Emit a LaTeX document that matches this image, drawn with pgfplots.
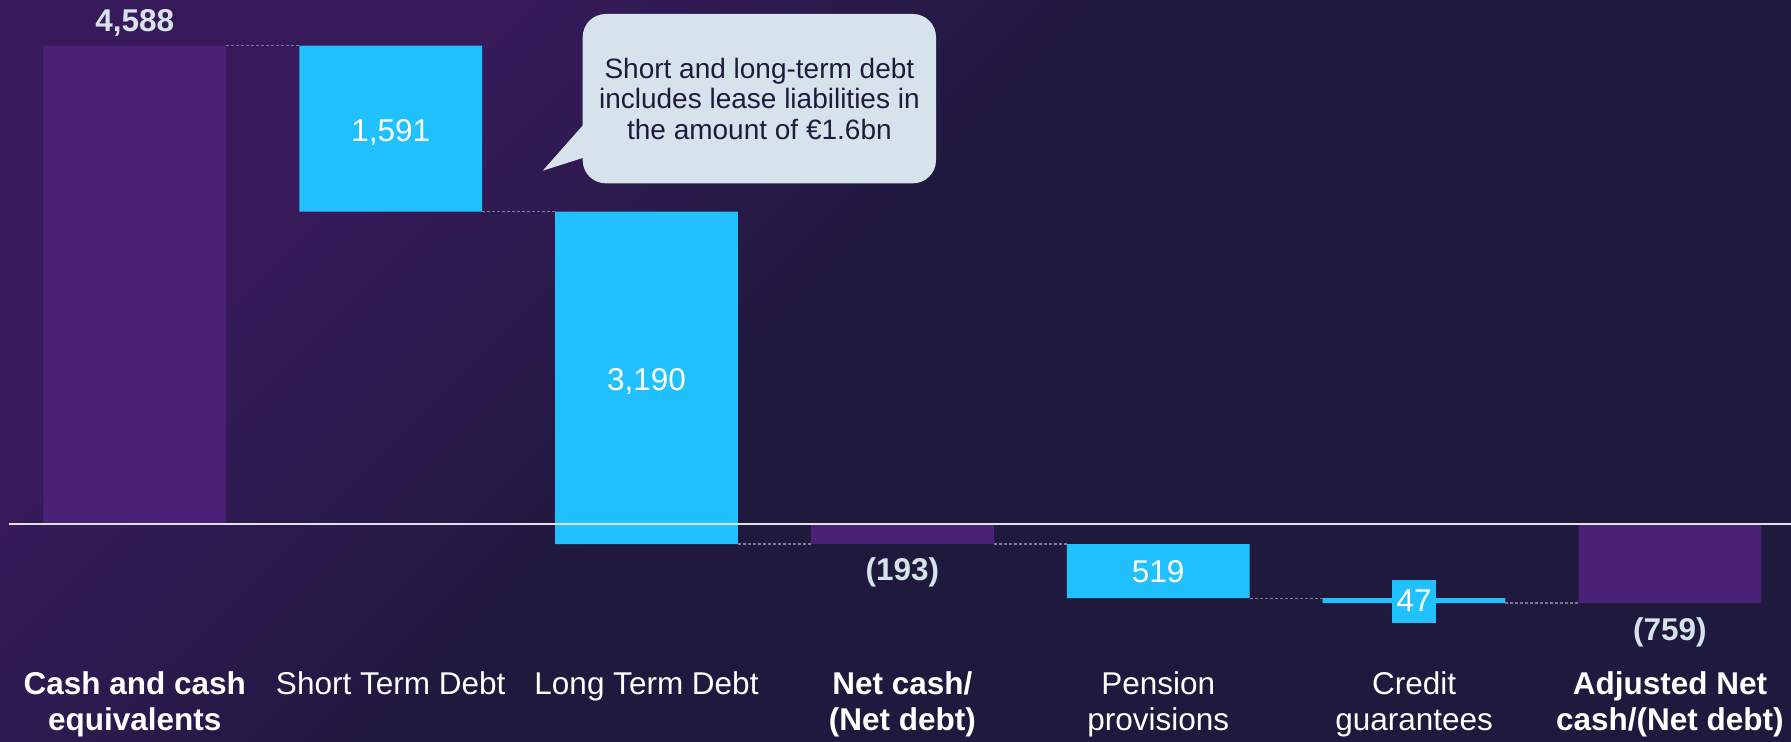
\documentclass[border=0pt]{standalone}
\usepackage{pgfplots}
\pgfplotsset{compat=1.18}
\usepackage{fontspec}
\setmainfont{Liberation Sans}

\definecolor{barpurple}{RGB}{75,33,119}
\definecolor{barcyan}{RGB}{33,192,255}
\definecolor{lightlbl}{RGB}{214,227,236}
\definecolor{callfill}{RGB}{214,227,236}
\definecolor{calltext}{RGB}{31,27,59}
\definecolor{bgpurple}{RGB}{54,26,90}
\definecolor{bgdark}{RGB}{30,25,61}
\definecolor{connector}{RGB}{125,122,146}
\definecolor{zeroline}{RGB}{225,225,232}

% pgf maps the 25bp..75bp band onto the shaded path
\pgfdeclareverticalshading{bgshade}{100bp}{color(0bp)=(bgdark); color(62.5bp)=(bgdark); color(75bp)=(bgpurple); color(100bp)=(bgpurple)}

\newcommand\lblfont{\fontsize{15.75}{18.3}\selectfont}
\newcommand\callfont{\fontsize{14}{15.2}\selectfont}

% waterfall: invisible base + totals (purple) + changes (cyan)
\pgfplotstableread{
x base total change
0 0     4588  0
1 2997  0     1591
2 -193  0     3190
3 0     -193  0
4 -193  0     -519
5 -712  0     -47
6 0     -759  0
}\wfdata

\pgfplotsset{
  flat/.style={stack plots=false, sharp plot, no marks, forget plot},
  conn/.style={flat, draw=connector, line width=0.7pt, dash pattern=on 1.5pt off 1pt},
}

\begin{document}
\begin{tikzpicture}
\begin{scope}
\clip (0,0) rectangle (895.5pt,370.5pt);
\shade[shading=bgshade, shading angle=45] (0,-525pt) rectangle (895.5pt,370.5pt);
\end{scope}
\begin{axis}[
  at={(0,0)}, anchor=south west,
  width=895.5pt, height=370.5pt, scale only axis,
  hide axis, clip=false,
  xmin=-0.5269, xmax=6.4733,
  ymin=-2081.5, ymax=5026.4,
  ybar stacked, stack negative=on previous, bar width=0.7145,
]
% zero line
\addplot[flat, draw=zeroline, line width=1pt] coordinates {(-0.4917,0) (6.4733,0)};
% connectors
\addplot[conn] coordinates {(0.357,4588) (0.643,4588)};
\addplot[conn] coordinates {(1.357,2997) (1.643,2997)};
\addplot[conn] coordinates {(2.357,-193) (2.643,-193)};
\addplot[conn] coordinates {(3.357,-193) (3.643,-193)};
\addplot[conn] coordinates {(4.357,-712) (4.643,-712)};
\addplot[conn] coordinates {(5.357,-759) (5.643,-759)};
% bars
\addplot[draw=none, fill=none] table[x=x, y=base] {\wfdata};
\addplot[draw=none, fill=barpurple] table[x=x, y=total] {\wfdata};
\addplot[draw=none, fill=barcyan] table[x=x, y=change] {\wfdata};

% anchor points for labels (drawn after the axis so they sit above the bars)
\coordinate (v0) at (axis cs:0,4810);
\coordinate (v1) at (axis cs:1,3760);
\coordinate (v2) at (axis cs:2,1370);
\coordinate (v3) at (axis cs:3,-465);
\coordinate (v4) at (axis cs:4,-460);
\coordinate (v5) at (axis cs:5,-740);
\coordinate (v6) at (axis cs:6,-1040);
\coordinate (c0) at (axis cs:0,-1410);
\coordinate (c1) at (axis cs:1,-1410);
\coordinate (c2) at (axis cs:2,-1410);
\coordinate (c3) at (axis cs:3,-1410);
\coordinate (c4) at (axis cs:4,-1410);
\coordinate (c5) at (axis cs:5,-1410);
\coordinate (c6) at (axis cs:6,-1410);
\end{axis}

% value labels
\node[font=\lblfont\bfseries, text=lightlbl] at (v0) {4,588};
\node[font=\lblfont, text=white] at (v1) {1,591};
\node[font=\lblfont, text=white] at (v2) {3,190};
\node[font=\lblfont\bfseries, text=lightlbl] at (v3) {(193)};
\node[font=\lblfont, text=white] at (v4) {519};
\node[font=\lblfont, text=white, fill=barcyan, minimum width=22pt, minimum height=21.5pt, inner sep=0pt] at (v5) {47};
\node[font=\lblfont\bfseries, text=lightlbl] at (v6) {(759)};

% category labels
\tikzset{cat/.style={anchor=north, align=center, inner sep=0pt, text=white}}
\node[cat, font=\lblfont\bfseries] at (c0) {Cash and cash\\equivalents};
\node[cat, font=\lblfont] at (c1) {Short Term Debt};
\node[cat, font=\lblfont] at (c2) {Long Term Debt};
\node[cat, font=\lblfont\bfseries] at (c3) {Net cash/\\(Net debt)};
\node[cat, font=\lblfont] at (c4) {Pension\\provisions};
\node[cat, font=\lblfont] at (c5) {Credit\\guarantees};
\node[cat, font=\lblfont\bfseries] at (c6) {Adjusted Net\\cash/(Net debt)};

% callout
\fill[callfill, rounded corners=11.5pt] (291.35pt,278.85pt) rectangle (468pt,363.5pt);
\fill[callfill] (296pt,313pt) -- (271.35pt,285.15pt) -- (296pt,293pt) -- cycle;
\node[align=center, font=\callfont, text=calltext, inner sep=0pt] at (379.7pt,321.2pt)
  {Short and long-term debt\\includes lease liabilities in\\the amount of €1.6bn};

\pgfresetboundingbox
\path[use as bounding box] (0,0) rectangle (895.5pt,370.5pt);
\end{tikzpicture}
\end{document}
